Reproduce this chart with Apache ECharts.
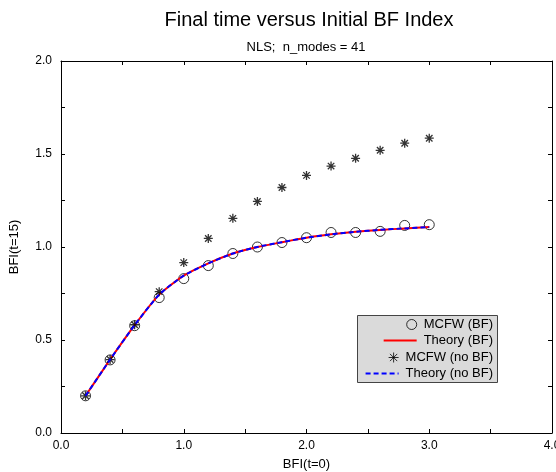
<!DOCTYPE html>
<html>
<head>
<meta charset="utf-8">
<script src="https://cdn.jsdelivr.net/npm/echarts@6/dist/echarts.min.js"></script>
<style>html,body{margin:0;padding:0;background:#fff}#c{width:556px;height:472px}</style>
</head>
<body>
<div id="c"></div>
<script>
var xValues = [0.2, 0.4, 0.6, 0.8, 1.0, 1.2, 1.4, 1.6, 1.8, 2.0, 2.2, 2.4, 2.6, 2.8, 3.0];
var mcfwBF = [0.2, 0.393, 0.577, 0.728, 0.83, 0.90, 0.965, 1.0, 1.024, 1.05, 1.078, 1.078, 1.084, 1.116, 1.12];
var theoryBF = [0.2, 0.395, 0.58, 0.744, 0.846, 0.912, 0.965, 1.0, 1.026, 1.05, 1.068, 1.082, 1.092, 1.1, 1.107];
var mcfwNoBF = [0.2, 0.395, 0.582, 0.76, 0.916, 1.046, 1.154, 1.245, 1.32, 1.385, 1.435, 1.477, 1.52, 1.558, 1.585];
var theoryNoBF = [0.2, 0.395, 0.58, 0.744, 0.846, 0.912, 0.965, 1.0, 1.026, 1.05, 1.068, 1.082, 1.092, 1.1, 1.107];
var seriesNames = ['MCFW (BF)', 'Theory (BF)', 'MCFW (no BF)', 'Theory (no BF)'];
var titleText = 'Final time versus Initial BF Index';
var subtitleText = 'NLS;  n_modes = 41';
var xName = 'BFI(t=0)';
var yName = 'BFI(t=15)';

function pairs(ys) { return xValues.map(function (x, i) { return [x, ys[i]]; }); }

var FONT = 'Liberation Sans';
var star = 'path://M0,-5L0,5M-5,0L5,0M-3.6,-3.6L3.6,3.6M-3.6,3.6L3.6,-3.6';

var axisCommon = {
  type: 'value',
  axisLine: { show: true, onZero: false, lineStyle: { color: '#000', width: 1 } },
  axisTick: { show: true, inside: true, length: 4, lineStyle: { color: '#000' } },
  minorTick: { show: true, splitNumber: 2, length: 4, lineStyle: { color: '#000' } },
  splitLine: { show: false },
  minorSplitLine: { show: false }
};
function ax(extra) { return Object.assign({}, JSON.parse(JSON.stringify(axisCommon)), extra); }
var fmt = function (v) { return v.toFixed(1); };

var legendRows = [318, 334, 351, 367];
var legends = seriesNames.map(function (n, i) {
  var isLine = (i % 2 === 1);
  return {
    data: [n],
    right: 63,
    top: legendRows[i],
    padding: 0,
    z: 10,
    selectedMode: false,
    itemWidth: isLine ? 33 : 10,
    itemHeight: 10,
    itemStyle: isLine ? { opacity: 0 } : { borderWidth: 1 },
    textStyle: { fontFamily: FONT, fontSize: 13, color: '#000', padding: [0, 0, 0, 2] }
  };
});

var chart = echarts.init(document.getElementById('c'), null, { renderer: 'canvas' });
chart.setOption({
  animation: false,
  backgroundColor: '#fff',
  title: [
    { text: titleText, left: 304, top: 5, textAlign: 'center', textStyle: { fontFamily: FONT, fontSize: 20, fontWeight: 'normal', color: '#000' } },
    { text: subtitleText, left: 301, top: 36, textAlign: 'center', textStyle: { fontFamily: FONT, fontSize: 13, fontWeight: 'normal', color: '#000' } }
  ],
  grid: { left: 61, right: 4, top: 61, bottom: 39, containLabel: false, outerBoundsMode: 'none' },
  graphic: [{
    type: 'rect', z: 1, left: 357, top: 315,
    shape: { width: 140, height: 67 },
    style: { fill: '#dadada', stroke: '#444', lineWidth: 1 }
  }],
  legend: legends,
  xAxis: [
    ax({ position: 'bottom', min: 0, max: 4, interval: 1,
      axisLabel: { formatter: fmt, fontFamily: FONT, fontSize: 12, color: '#000', margin: 7, showMaxLabel: true },
      name: xName, nameLocation: 'middle', nameGap: 25,
      nameTextStyle: { fontFamily: FONT, fontSize: 13, color: '#000' } }),
    ax({ position: 'top', min: 0, max: 4, interval: 1, axisLabel: { show: false } })
  ],
  yAxis: [
    ax({ position: 'left', min: 0, max: 2, interval: 0.5,
      axisLabel: { formatter: fmt, fontFamily: FONT, fontSize: 12, color: '#000', margin: 9 },
      name: yName, nameLocation: 'middle', nameGap: 40, nameRotate: 90,
      nameTextStyle: { fontFamily: FONT, fontSize: 13, color: '#000' } }),
    ax({ position: 'right', min: 0, max: 2, interval: 0.5, axisLabel: { show: false } })
  ],
  series: [
    { name: seriesNames[0], type: 'scatter', data: pairs(mcfwBF), symbol: 'circle', symbolSize: 10,
      itemStyle: { color: 'rgba(0,0,0,0)', borderColor: '#000', borderWidth: 1 }, z: 2 },
    { name: seriesNames[1], type: 'line', data: pairs(theoryBF), symbol: 'none', smooth: 0.2,
      lineStyle: { color: '#ff0000', width: 2 }, itemStyle: { color: '#ff0000' }, z: 3 },
    { name: seriesNames[2], type: 'scatter', data: pairs(mcfwNoBF), symbol: star, symbolSize: 9,
      itemStyle: { color: '#000', borderColor: '#000', borderWidth: 1.3 }, z: 4 },
    { name: seriesNames[3], type: 'line', data: pairs(theoryNoBF), symbol: 'none', smooth: 0.2,
      lineStyle: { color: '#0000ff', width: 2, type: [5, 3] }, itemStyle: { color: '#0000ff' }, z: 5 }
  ]
});
</script>
</body>
</html>
